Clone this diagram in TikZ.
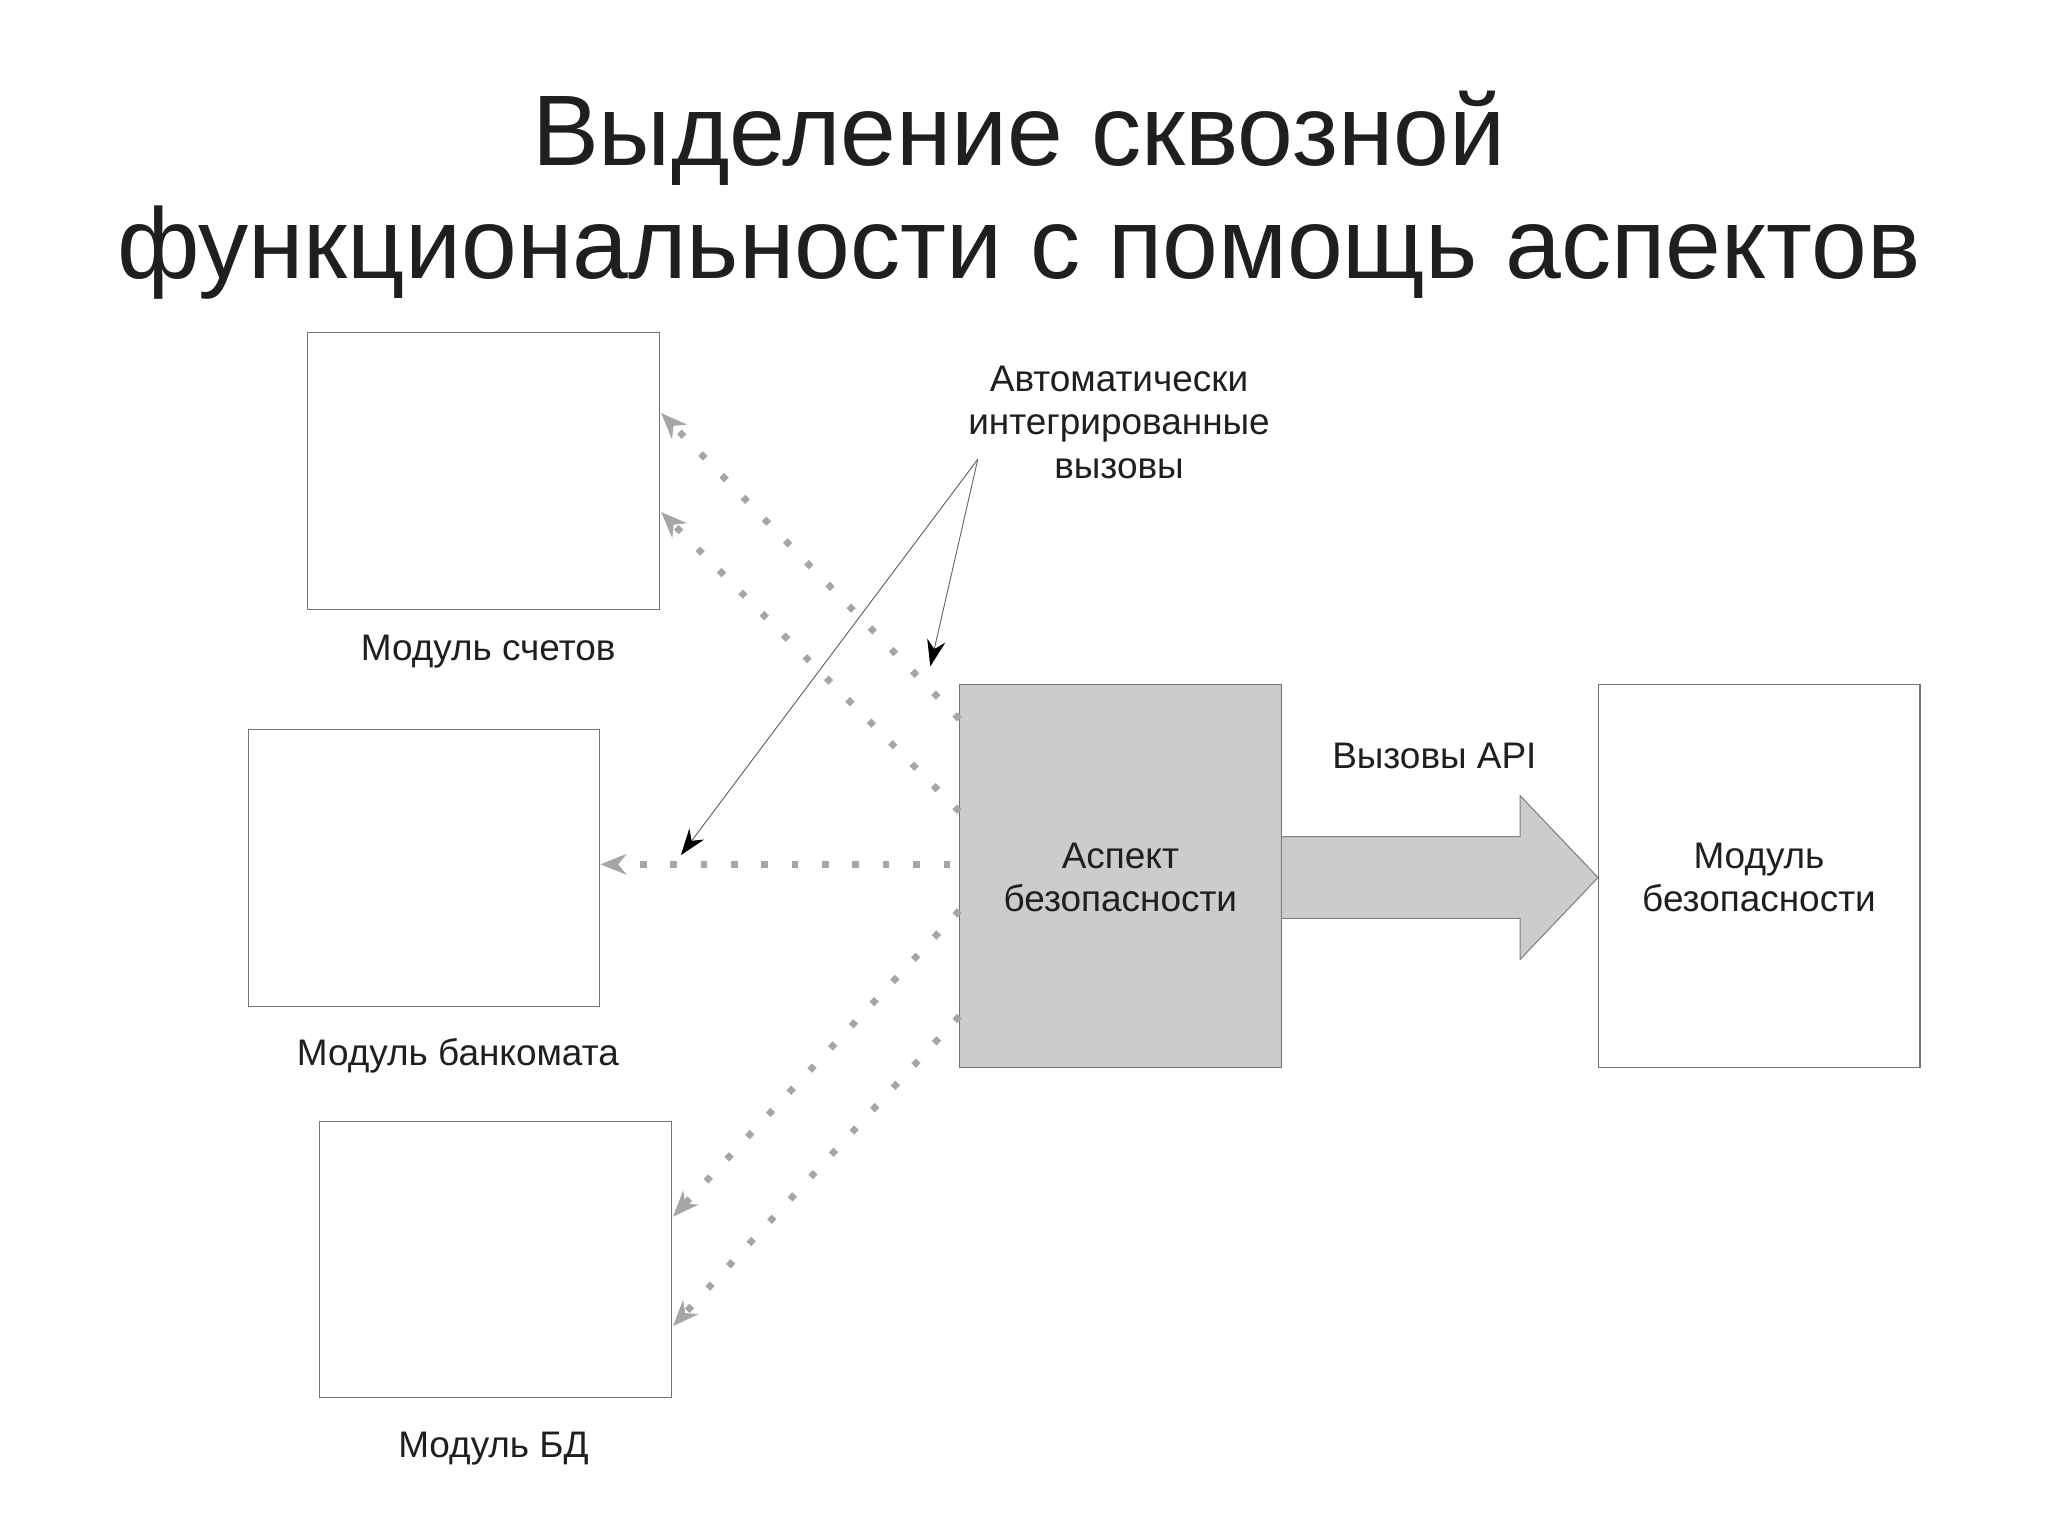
\documentclass[tikz,border=0pt]{standalone}
\usepackage{fontspec}
\setmainfont{Liberation Sans}
\usetikzlibrary{arrows.meta}
\begin{document}
\begin{tikzpicture}[x=1pt,y=-1pt,
  box/.style={draw=black!55,line width=0.8pt},
  lbl/.style={font=\fontsize{28}{33}\selectfont,text=black!88,align=center},
  dots/.style={draw=black!35,line width=5pt,dash pattern=on 5pt off 18pt,-{Stealth[length=20pt,width=16pt,line width=0pt]}},
  ann/.style={draw=black!60,line width=0.7pt,-{Stealth[length=20pt,width=14pt,black]}}]
\useasboundingbox[fill=white] (0,0) rectangle (1552,1163);
\node[font=\fontsize{76}{86}\selectfont,text=black!88,align=center] (title) at (772,148) {Выделение сквозной\\функциональности с помощь аспектов};
\draw[box] (233,252) rectangle (500,462);
\coordinate (acc) at (366,357);
\node[lbl] (accl) at (370,494) {Модуль счетов};
\draw[box] (188,553) rectangle (454,763);
\node[lbl] (atml) at (347,800) {Модуль банкомата};
\draw[box] (242,850) rectangle (509,1059);
\node[lbl] (dbl) at (374,1098) {Модуль БД};
\draw[box,fill=black!20] (727,519) rectangle (971,809);
\node[lbl] (asp) at (849,665) {Аспект\\безопасности};
\draw[box] (1211,519) rectangle (1455,809);
\node[lbl] (sec) at (1333,665) {Модуль\\безопасности};
\draw[draw=black!50,fill=black!20,line width=0.8pt] (971,634) -- (1152,634) -- (1152,603) -- (1211,665) -- (1152,727) -- (1152,696) -- (971,696) -- cycle;
\node[lbl] (api) at (1087,573) {Вызовы API};
\node[lbl] (auto) at (848,320) {Автоматически\\интегрированные\\вызовы};
\coordinate (c1s) at (727,545); \coordinate (c1e) at (501,313);
\coordinate (c2s) at (727,615); \coordinate (c2e) at (501,388);
\coordinate (c3s) at (720,655); \coordinate (c3e) at (455,655);
\coordinate (c4s) at (727,690); \coordinate (c4e) at (510,922);
\coordinate (c5s) at (727,770); \coordinate (c5e) at (510,1005);
\draw[dots] (c1s) -- (c1e);
\draw[dots] (c2s) -- (c2e);
\draw[dots] (c3s) -- (c3e);
\draw[dots] (c4s) -- (c4e);
\draw[dots] (c5s) -- (c5e);
\coordinate (ap) at (741,348);
\coordinate (t1) at (705,505);
\coordinate (t2) at (516,648);
\draw[ann] (ap) -- (t1);
\draw[ann] (ap) -- (t2);
\end{tikzpicture}
\end{document}
